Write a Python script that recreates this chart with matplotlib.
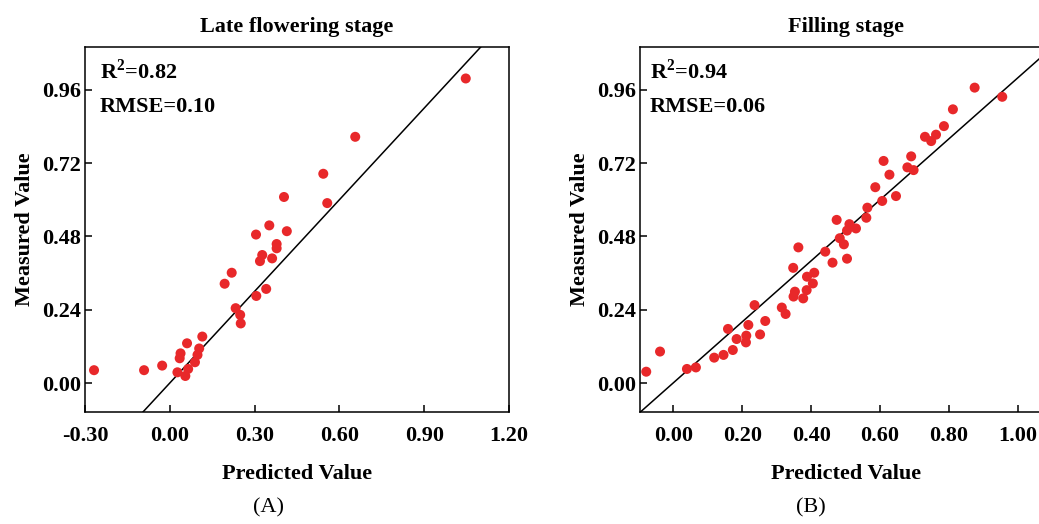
import numpy as np
import matplotlib
matplotlib.use("Agg")
import matplotlib.pyplot as plt

plt.rcParams['font.family'] = ['Liberation Serif', 'DejaVu Serif']
plt.rcParams['mathtext.fontset'] = 'custom'
plt.rcParams['mathtext.rm'] = 'Liberation Serif:bold'
plt.rcParams['mathtext.bf'] = 'Liberation Serif:bold'

# Late flowering stage: predicted vs measured
late_pred = [-0.268, -0.091, -0.027, 0.027, 0.055, 0.065, 0.035, 0.038, 0.061,
             0.089, 0.098, 0.104, 0.115, 0.194, 0.219, 0.233, 0.249, 0.251,
             0.305, 0.306, 0.319, 0.327, 0.341, 0.352, 0.362, 0.378, 0.378,
             0.404, 0.414, 0.543, 0.557, 0.656, 1.047]
late_meas = [0.042, 0.042, 0.057, 0.035, 0.023, 0.046, 0.081, 0.097, 0.130,
             0.068, 0.092, 0.113, 0.152, 0.325, 0.361, 0.245, 0.223, 0.195,
             0.486, 0.285, 0.399, 0.419, 0.308, 0.516, 0.408, 0.455, 0.441,
             0.609, 0.497, 0.685, 0.589, 0.806, 0.997]

# Filling stage: predicted vs measured
fill_pred = [-0.078, -0.038, 0.040, 0.066, 0.119, 0.146, 0.159, 0.173, 0.184,
             0.212, 0.211, 0.218, 0.236, 0.252, 0.267, 0.315, 0.326, 0.348,
             0.349, 0.353, 0.363, 0.377, 0.387, 0.388, 0.405, 0.409, 0.441,
             0.462, 0.474, 0.483, 0.495, 0.504, 0.504, 0.511, 0.530, 0.560,
             0.563, 0.586, 0.606, 0.610, 0.627, 0.646, 0.679, 0.690, 0.697,
             0.730, 0.748, 0.762, 0.785, 0.811, 0.874, 0.954]
fill_meas = [0.037, 0.103, 0.046, 0.051, 0.083, 0.092, 0.177, 0.108, 0.144,
             0.155, 0.133, 0.190, 0.255, 0.159, 0.203, 0.247, 0.226, 0.377,
             0.283, 0.299, 0.444, 0.277, 0.304, 0.348, 0.326, 0.361, 0.430,
             0.394, 0.534, 0.474, 0.454, 0.407, 0.499, 0.520, 0.506, 0.541,
             0.574, 0.641, 0.596, 0.727, 0.682, 0.612, 0.706, 0.742, 0.697,
             0.806, 0.792, 0.813, 0.841, 0.896, 0.967, 0.937]

titles = ['Late flowering stage', 'Filling stage']
r2_values = ['0.82', '0.94']
rmse_values = ['0.10', '0.06']
panel_tags = ['(A)', '(B)']
late_xticks = [-0.30, 0.00, 0.30, 0.60, 0.90, 1.20]
fill_xticks = [0.00, 0.20, 0.40, 0.60, 0.80, 1.00]
yticks = [0.00, 0.24, 0.48, 0.72, 0.96]

fig = plt.figure(figsize=(10.39, 5.24), dpi=100)
ax1 = fig.add_axes([0.0818, 0.2137, 0.4081, 0.6966])
ax2 = fig.add_axes([0.616, 0.2137, 0.3971, 0.6966])

panels = [
    (ax1, late_pred, late_meas, (-0.30, 1.20), late_xticks, 0.035),
    (ax2, fill_pred, fill_meas, (-0.096, 1.10), fill_xticks, 0.024),
]

for i, (ax, px, py, xlim, xt, tx) in enumerate(panels):
    # 1:1 line
    ax.plot([-0.5, 1.5], [-0.5, 1.5], color='black', lw=1.1, zorder=2)
    ax.scatter(px, py, s=52, color='#e8282a', edgecolors='none', zorder=3)
    ax.set_xlim(*xlim)
    ax.set_ylim(-0.095, 1.10)
    ax.set_xticks(xt)
    ax.set_xticklabels(['%.2f' % v for v in xt])
    ax.set_yticks(yticks)
    ax.set_yticklabels(['%.2f' % v for v in yticks])
    ax.tick_params(axis='x', direction='in', length=5, width=1.1, pad=10,
                   labelsize=16)
    ax.tick_params(axis='y', direction='in', length=5, width=1.1, pad=3,
                   labelsize=16)
    for lbl in ax.get_xticklabels() + ax.get_yticklabels():
        lbl.set_fontweight('bold')
    for sp in ax.spines.values():
        sp.set_linewidth(1.1)
    ax.set_title(titles[i], fontsize=16, fontweight='bold', pad=11)
    ax.set_xlabel('Predicted Value', fontsize=16, fontweight='bold', labelpad=13)
    ax.set_ylabel('Measured Value', fontsize=16, fontweight='bold', labelpad=5)
    ax.text(tx, 0.932, 'R$^{2}$=' + r2_values[i], transform=ax.transAxes,
            fontsize=16, fontweight='bold', va='center', ha='left')
    ax.text(tx, 0.836, 'RMSE=' + rmse_values[i], transform=ax.transAxes,
            fontsize=16, fontweight='bold', va='center', ha='left')

fig.text(0.258, 0.031, panel_tags[0], fontsize=16, ha='center', va='center')
fig.text(0.780, 0.031, panel_tags[1], fontsize=16, ha='center', va='center')

fig.savefig('out.png', dpi=100, facecolor='white')
